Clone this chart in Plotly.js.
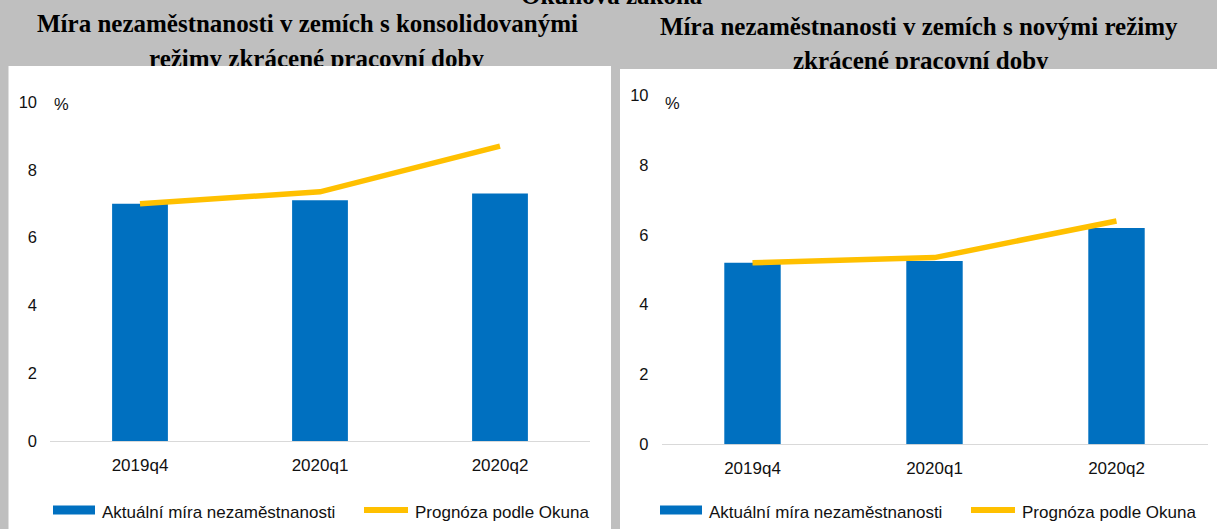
<!DOCTYPE html>
<html><head><meta charset="utf-8">
<script src="https://cdn.plot.ly/plotly-3.0.1.min.js"></script>
<style>html,body{margin:0;padding:0;background:#bfbfbf;overflow:hidden;} #chart{width:1217px;height:529px;}</style>
</head><body><div id="chart"></div>
<script>
const categories = ['2019q4', '2020q1', '2020q2'];
const leftActual = [7.0, 7.1, 7.3];
const leftOkun = [7.0, 7.35, 8.7];
const rightActual = [5.2, 5.25, 6.2];
const rightOkun = [5.2, 5.35, 6.4];
const yTicks = [0, 2, 4, 6, 8, 10];
const seriesNames = ['Aktuální míra nezaměstnanosti', 'Prognóza podle Okuna'];
const leftTitleLines = ['Míra nezaměstnanosti v zemích s konsolidovanými', 'režimy zkrácené pracovní doby'];
const rightTitleLines = ['Míra nezaměstnanosti v zemích s novými režimy', 'zkrácené pracovní doby'];
const topTitle = 'Okunova zákona';
const unitLabel = '%';

const W = 1217, H = 529;
const px = x => x / W;
const py = y => 1 - y / H;
const BLUE = '#0070c0', GOLD = '#ffc000';
const sans = 'Liberation Sans, Arial, sans-serif';
const serif = 'Liberation Serif, Times New Roman, serif';

const traces = [
  {type: 'bar', x: categories, y: leftActual, name: seriesNames[0], width: 0.31,
   marker: {color: BLUE}, xaxis: 'x', yaxis: 'y', showlegend: false},
  {type: 'scatter', mode: 'lines', x: categories, y: leftOkun, name: seriesNames[1],
   line: {color: GOLD, width: 5.5}, xaxis: 'x', yaxis: 'y', showlegend: false},
  {type: 'bar', x: categories, y: rightActual, name: seriesNames[0], width: 0.31,
   marker: {color: BLUE}, xaxis: 'x2', yaxis: 'y2', showlegend: false},
  {type: 'scatter', mode: 'lines', x: categories, y: rightOkun, name: seriesNames[1],
   line: {color: GOLD, width: 5.5}, xaxis: 'x2', yaxis: 'y2', showlegend: false}
];

const xa = (dom, anchor) => ({domain: dom, anchor: anchor, type: 'category', range: [-0.5, 2.5], showgrid: false,
  showline: false, zeroline: false, ticks: '', ticklabelstandoff: 12,
  tickfont: {family: sans, size: 17, color: '#111'}, fixedrange: true});
const ya = (dom, anchor) => ({domain: dom, anchor: anchor, range: [0, 10], tickvals: yTicks, showgrid: false,
  showline: false, zeroline: true, zerolinecolor: '#d9d9d9', zerolinewidth: 1, ticks: '',
  ticklabelstandoff: 12, tickfont: {family: sans, size: 16.5, color: '#111'}, fixedrange: true});

function legendShapes(x0) {
  return [
    {type: 'rect', xref: 'paper', yref: 'paper', x0: px(x0), x1: px(x0 + 42), y0: py(514.5), y1: py(505.5),
     fillcolor: BLUE, line: {width: 0}},
    {type: 'line', xref: 'paper', yref: 'paper', x0: px(x0 + 311), x1: px(x0 + 355), y0: py(510), y1: py(510),
     line: {color: GOLD, width: 6}}
  ];
}
function legendTexts(x0) {
  return [
    {text: seriesNames[0], xref: 'paper', yref: 'paper', x: px(x0 + 47), y: py(512), xanchor: 'left', yanchor: 'middle',
     showarrow: false, font: {family: sans, size: 17, color: '#111'}},
    {text: seriesNames[1], xref: 'paper', yref: 'paper', x: px(x0 + 360), y: py(512), xanchor: 'left', yanchor: 'middle',
     showarrow: false, font: {family: sans, size: 17, color: '#111'}}
  ];
}

const LEFT_TOP = 66, RIGHT_TOP = 69;
const shapes = [
  {type: 'rect', layer: 'below', xref: 'paper', yref: 'paper', x0: px(8.5), x1: px(611), y0: 0, y1: py(LEFT_TOP),
   fillcolor: '#ffffff', line: {width: 0}},
  {type: 'rect', layer: 'below', xref: 'paper', yref: 'paper', x0: px(620), x1: 1, y0: 0, y1: py(RIGHT_TOP),
   fillcolor: '#ffffff', line: {width: 0}},
  ...legendShapes(53), ...legendShapes(660)
];

const titleFont = {family: serif, size: 25, color: '#000', weight: 'bold'};
const titleAnn = (text, x, y) => ({text: '<b>' + text + '</b>', xref: 'paper', yref: 'paper', x: px(x), y: py(y),
  xanchor: 'center', yanchor: 'middle', showarrow: false, font: titleFont});
const annotations = [
  titleAnn(topTitle, 612, -4),
  titleAnn(leftTitleLines[0], 307, 24),
  titleAnn(leftTitleLines[1], 316, 58),
  titleAnn(rightTitleLines[0], 919, 26),
  titleAnn(rightTitleLines[1], 921, 61),
  // white strips of the panels hiding the descenders of the cut title lines
  {text: ' ', xref: 'paper', yref: 'paper', x: px((8.5 + 611) / 2), y: py(LEFT_TOP + 6), xanchor: 'center', yanchor: 'middle',
   width: 602, height: 12, bgcolor: '#ffffff', borderpad: 0, borderwidth: 0, showarrow: false},
  {text: ' ', xref: 'paper', yref: 'paper', x: px((620 + 1217) / 2), y: py(RIGHT_TOP + 6), xanchor: 'center', yanchor: 'middle',
   width: 597, height: 12, bgcolor: '#ffffff', borderpad: 0, borderwidth: 0, showarrow: false},
  {text: unitLabel, xref: 'paper', yref: 'paper', x: px(61.5), y: py(104), xanchor: 'center', yanchor: 'middle',
   showarrow: false, font: {family: sans, size: 16.5, color: '#111'}},
  {text: unitLabel, xref: 'paper', yref: 'paper', x: px(672.5), y: py(103), xanchor: 'center', yanchor: 'middle',
   showarrow: false, font: {family: sans, size: 16.5, color: '#111'}},
  ...legendTexts(53), ...legendTexts(660)
];

const layout = {
  width: W, height: H, margin: {l: 0, r: 0, t: 0, b: 0, pad: 0},
  paper_bgcolor: '#bfbfbf', plot_bgcolor: 'rgba(0,0,0,0)',
  showlegend: false, hovermode: false, barmode: 'overlay',
  xaxis: xa([px(50), px(590)], 'y'), yaxis: ya([py(441), py(102)], 'x'),
  xaxis2: xa([px(661.5), px(1207.5)], 'y2'), yaxis2: ya([py(444.3), py(95.3)], 'x2'),
  shapes: shapes, annotations: annotations
};

Plotly.newPlot('chart', traces, layout, {displayModeBar: false, staticPlot: true});
</script></body></html>
